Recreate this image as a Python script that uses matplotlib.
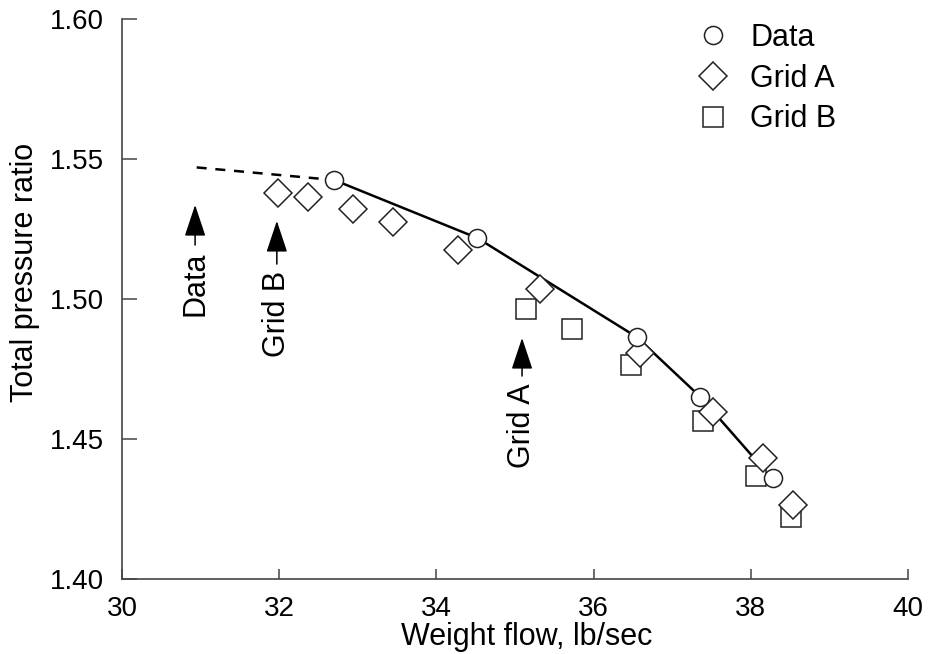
"""Total pressure ratio vs weight flow: test data and two CFD grids."""

import matplotlib
matplotlib.use("Agg")
import matplotlib.pyplot as plt
from matplotlib.lines import Line2D
from matplotlib.ticker import FormatStrFormatter

# measured data (circles) and the faired curve through them
data_x = [32.70, 34.52, 36.55, 37.36, 38.28]
data_y = [1.5425, 1.5218, 1.4864, 1.4650, 1.4360]
curve_x = [32.70, 34.52, 36.55, 37.36, 38.02]
curve_y = [1.5425, 1.5218, 1.4864, 1.4650, 1.4439]
extrap_x = [30.95, 32.70]
extrap_y = [1.5470, 1.5425]

# Grid A (diamonds)
grid_a_x = [31.98, 32.37, 32.94, 33.45, 34.27, 35.32, 36.59, 37.52, 38.15, 38.54]
grid_a_y = [1.5379, 1.5364, 1.5321, 1.5275, 1.5175, 1.5036, 1.4807, 1.4596, 1.4432, 1.4264]

# Grid B (squares)
grid_b_x = [35.14, 35.73, 36.48, 37.39, 38.07, 38.51]
grid_b_y = [1.4964, 1.4893, 1.4764, 1.4564, 1.4368, 1.4221]

# stall-point arrows: label, x, arrow tip y, text top y
stall_labels = ["Data", "Grid B", "Grid A"]
stall_x = [30.93, 31.97, 35.09]
stall_tip = [1.5336, 1.5279, 1.4861]
stall_text = [1.5168, 1.5100, 1.4700]

FS = 20      # tick labels
FS_BIG = 22  # axis labels, legend, annotations
plt.rcParams["font.family"] = ["Liberation Sans", "DejaVu Sans"]
plt.rcParams["font.size"] = FS

fig = plt.figure(figsize=(9.32, 6.54), dpi=100)
ax = fig.add_axes([0.1309, 0.1147, 0.8433, 0.8562])

ax.plot(extrap_x, extrap_y, color="k", lw=1.8, ls=(0, (4, 3.5)), zorder=2)
ax.plot(curve_x, curve_y, color="k", lw=1.8, zorder=2)

mk = dict(ls="none", mfc="white", mec="#222222", mew=1.1)
ax.plot(grid_b_x, grid_b_y, marker="s", ms=15, zorder=3, **mk)
ax.plot(grid_a_x, grid_a_y, marker="D", ms=13.8, zorder=4, **mk)
ax.plot(data_x, data_y, marker="o", ms=13, zorder=5, **mk)

for label, x, tip, top in zip(stall_labels, stall_x, stall_tip, stall_text):
    ax.annotate(label, xy=(x, tip), xytext=(x, top), rotation=90,
                ha="center", va="top", fontsize=FS_BIG,
                arrowprops=dict(arrowstyle="-|>,head_length=0.9,head_width=0.3",
                                color="k", lw=1.1, shrinkA=3, shrinkB=0))

handles = [
    Line2D([], [], marker="o", ms=13, label="Data", **mk),
    Line2D([], [], marker="D", ms=13.8, label="Grid A", **mk),
    Line2D([], [], marker="s", ms=15, label="Grid B", **mk),
]
ax.legend(handles=handles, loc="upper left", bbox_to_anchor=(0.698, 1.042),
          frameon=False, numpoints=1, handlelength=1.0, handletextpad=0.7,
          labelspacing=0.35, fontsize=FS_BIG)

ax.set_xlim(30, 40)
ax.set_ylim(1.40, 1.60)
ax.set_xticks([30, 32, 34, 36, 38, 40])
ax.set_yticks([1.40, 1.45, 1.50, 1.55, 1.60])
ax.yaxis.set_major_formatter(FormatStrFormatter("%.2f"))
ax.set_xlabel("Weight flow, lb/sec", fontsize=FS_BIG)
ax.set_ylabel("Total pressure ratio", fontsize=FS_BIG)
ax.xaxis.set_label_coords(0.515, -0.0770)
ax.yaxis.set_label_coords(-0.104, 0.548)

for side in ("top", "right"):
    ax.spines[side].set_visible(False)
for side in ("left", "bottom"):
    ax.spines[side].set_color("#444444")
    ax.spines[side].set_linewidth(1.2)
ax.tick_params(axis="y", direction="in", length=11, width=1.1, color="#444444", pad=13)
ax.tick_params(axis="x", direction="in", length=7, width=1.1, color="#444444", pad=12)

fig.savefig("out.png", dpi=100)
